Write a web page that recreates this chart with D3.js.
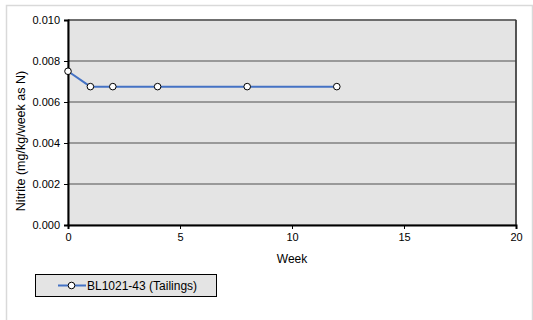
<!DOCTYPE html>
<html><head><meta charset="utf-8">
<script src="https://cdn.jsdelivr.net/npm/d3@7"></script>
<style>body{margin:0;background:#fff}svg{display:block}text{font-family:"Liberation Sans",Arial,sans-serif}</style>
</head><body><svg id="c" width="533" height="320"></svg>
<script>
const weeks = [0, 1, 2, 4, 8, 12];
const nitrite = [0.0075, 0.00675, 0.00675, 0.00675, 0.00675, 0.00675];
const seriesName = "BL1021-43 (Tailings)";
const xTicks = [0, 5, 10, 15, 20];
const yTicks = [0, 0.002, 0.004, 0.006, 0.008, 0.010];

const svg = d3.select("#c");
const L = 68, R = 516, T = 20, B = 225;
const x = d3.scaleLinear().domain([0, 20]).range([L, R]);
const y = d3.scaleLinear().domain([0, 0.010]).range([B, T]);

// outer frame
svg.append("rect").attr("x", 6.5).attr("y", 5.5).attr("width", 526).attr("height", 330)
  .attr("fill", "none").attr("stroke", "#d9d9d9").attr("stroke-width", 1.5);

svg.append("rect").attr("x", L).attr("y", T).attr("width", R - L).attr("height", B - T)
  .attr("fill", "#e4e4e4").attr("stroke", "#808080").attr("stroke-width", 1);

// gridlines
svg.append("g").selectAll("line").data(yTicks.slice(1, -1)).join("line")
  .attr("x1", L).attr("x2", R).attr("y1", d => y(d)).attr("y2", d => y(d))
  .attr("stroke", "#808080").attr("stroke-width", 1.5);
// top & right border
svg.append("line").attr("x1", L).attr("x2", R).attr("y1", T).attr("y2", T).attr("stroke", "#555").attr("stroke-width", 1.5);
svg.append("line").attr("x1", R).attr("x2", R).attr("y1", T).attr("y2", B).attr("stroke", "#333").attr("stroke-width", 1.5);

const yAxis = svg.append("g").attr("transform", `translate(${L},0)`)
  .call(d3.axisLeft(y).tickValues(yTicks).tickFormat(d3.format(".3f")).tickSize(4).tickPadding(4));
const xAxis = svg.append("g").attr("transform", `translate(0,${B})`)
  .call(d3.axisBottom(x).tickValues(xTicks).tickFormat(d3.format("d")).tickSize(4).tickPadding(4));
[yAxis, xAxis].forEach(a => {
  a.selectAll("path").attr("stroke", "#000").attr("stroke-width", 2);
  a.selectAll("line").attr("stroke", "#000").attr("stroke-width", 1);
  a.selectAll("text").attr("font-size", 11).attr("fill", "#000");
});

svg.append("text").attr("x", x(10)).attr("y", 263).attr("text-anchor", "middle")
  .attr("font-size", 12).text("Week");
svg.append("text").attr("transform", `translate(25,141) rotate(-90)`)
  .attr("text-anchor", "middle").attr("font-size", 12.5).text("Nitrite (mg/kg/week as N)");

const data = weeks.map((w, i) => ({w, v: nitrite[i]}));
svg.append("path").datum(data)
  .attr("d", d3.line().x(d => x(d.w)).y(d => y(d.v)))
  .attr("fill", "none").attr("stroke", "#4472c4").attr("stroke-width", 2);
svg.append("g").selectAll("circle").data(data).join("circle")
  .attr("cx", d => x(d.w)).attr("cy", d => y(d.v)).attr("r", 3.3)
  .attr("fill", "#fff").attr("stroke", "#000").attr("stroke-width", 1);

// legend
const lg = svg.append("g");
lg.append("rect").attr("x", 35.5).attr("y", 274.5).attr("width", 181).attr("height", 22)
  .attr("fill", "#e4e4e4").attr("stroke", "#000").attr("stroke-width", 1);
lg.append("line").attr("x1", 58).attr("x2", 86).attr("y1", 285.5).attr("y2", 285.5)
  .attr("stroke", "#4472c4").attr("stroke-width", 2);
lg.append("circle").attr("cx", 71.5).attr("cy", 285.5).attr("r", 3.3)
  .attr("fill", "#fff").attr("stroke", "#000");
lg.append("text").attr("x", 87).attr("y", 290).attr("font-size", 12).text(seriesName);
</script></body></html>
